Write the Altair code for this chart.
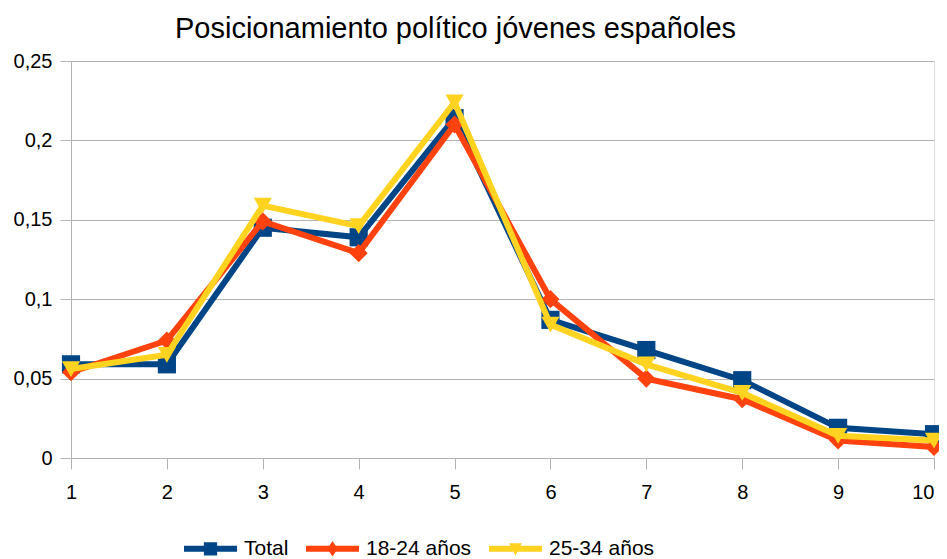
import altair as alt
import pandas as pd

# ---- data ----
posiciones = [1, 2, 3, 4, 5, 6, 7, 8, 9, 10]
total = [0.059, 0.059, 0.145, 0.139, 0.214, 0.087, 0.068, 0.049, 0.019, 0.015]
jov_18_24 = [0.054, 0.074, 0.149, 0.129, 0.210, 0.100, 0.050, 0.037, 0.011, 0.007]
jov_25_34 = [0.056, 0.065, 0.159, 0.146, 0.224, 0.084, 0.059, 0.041, 0.014, 0.011]
series = ["Total", "18-24 años", "25-34 años"]
colores = ["#004586", "#ff420e", "#ffd320"]
formas = ["square", "diamond", "triangle-down"]
y_ticks = [0, 0.05, 0.1, 0.15, 0.2, 0.25]

rows = []
for nombre, valores in zip(series, [total, jov_18_24, jov_25_34]):
    for p, v in zip(posiciones, valores):
        rows.append({"posicion": p, "valor": v, "serie": nombre})
df = pd.DataFrame(rows)

FONT = "Liberation Sans, Arial, sans-serif"
GRID = "#b3b3b3"

# legend symbols: line segment + marker, in the -1..1 symbol box
line_part = "M-1,-0.113L1,-0.113L1,0.113L-1,0.113Z"
sym_total = line_part + "M-0.25,-0.25L0.25,-0.25L0.25,0.25L-0.25,0.25Z"
sym_1824 = line_part + "M0,-0.29L0.2,0L0,0.29L-0.2,0Z"
sym_2534 = line_part + "M-0.24,-0.21L0.24,-0.21L0,0.25Z"
legend_shapes = [sym_total, sym_1824, sym_2534]

color_scale = alt.Scale(domain=series, range=colores)
x_enc = alt.X(
    "posicion:Q",
    scale=alt.Scale(domain=[1, 10], nice=False, zero=False),
    axis=alt.Axis(
        values=posiciones, title=None, grid=False, tickSize=11,
        tickColor=GRID, domainColor=GRID, labelFontSize=20, labelFont=FONT,
        labelColor="black", labelPadding=13, format="d", labelFlush=False,
        labelAlign={"condition": {"test": "datum.value == 10", "value": "right"},
                    "value": "center"},
    ),
)
y_enc = alt.Y(
    "valor:Q",
    scale=alt.Scale(domain=[0, 0.25], nice=False),
    axis=alt.Axis(
        values=y_ticks, title=None, grid=True, gridColor=GRID, tickSize=11,
        tickColor=GRID, domainColor=GRID, labelFontSize=20, labelFont=FONT,
        labelColor="black", labelPadding=8, labelFlush=False,
        labelExpr="replace(format(datum.value, '.2~f'), '.', ',')",
    ),
)

base = alt.Chart(df)

layers = []
for s, forma, col in zip(series, formas, colores):
    sub = base.transform_filter(alt.datum.serie == s)
    layers.append(
        sub.mark_line(strokeWidth=6, strokeJoin="miter", color=col).encode(
            x=x_enc, y=y_enc,
        )
    )
    layers.append(
        sub.mark_point(filled=True, opacity=1, strokeWidth=0, shape=forma,
                       size=330, color=col).encode(
            x=x_enc, y=y_enc,
        )
    )

leg_cfg = dict(
    title=None, orient="none", direction="horizontal",
    legendX=113, legendY=461, symbolSize=2809, labelFontSize=21,
    labelFont=FONT, labelColor="black", labelOffset=7, columnPadding=17,
    symbolStrokeWidth=0, symbolOpacity=1,
)
legend_layer = base.transform_filter("datum.valor < 0").mark_point(
    filled=True, strokeWidth=0
).encode(
    x=x_enc, y=y_enc,
    color=alt.Color("serie:N", scale=color_scale, legend=alt.Legend(**leg_cfg)),
    shape=alt.Shape("serie:N", scale=alt.Scale(domain=series, range=legend_shapes),
                    legend=alt.Legend(**leg_cfg)),
)
layers.append(legend_layer)

chart = alt.layer(*layers).properties(
    width=863,
    height=397,
    padding={"left": 63, "top": 53, "right": 5, "bottom": 101},
    autosize=alt.AutoSizeParams(type="none"),
    title=alt.Title(
        "Posicionamiento político jóvenes españoles",
        fontSize=29, font=FONT, fontWeight="normal", color="black",
        anchor="middle", frame="group", dx=-47, offset=-16,
        baseline="alphabetic",
    ),
).configure_view(stroke=GRID, strokeWidth=1).configure(background="white")

chart.save("out.html", embed_options={"renderer": "svg", "actions": False})
